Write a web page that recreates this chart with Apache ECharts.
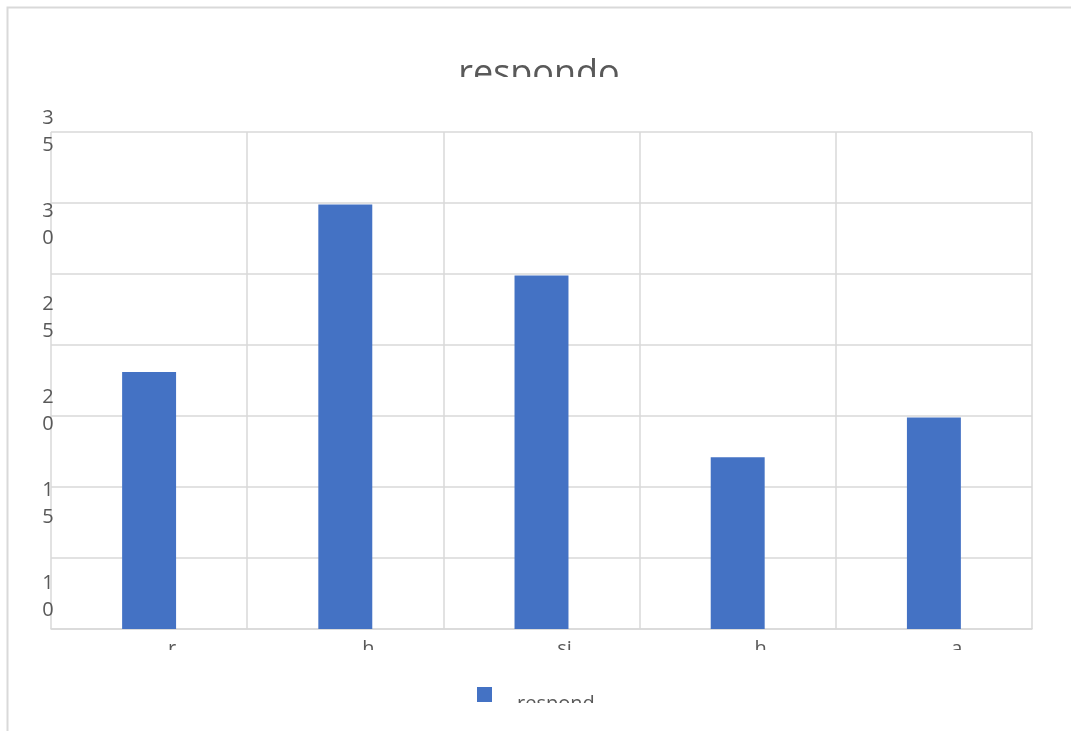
<!DOCTYPE html>
<html>
<head>
<meta charset="utf-8">
<script src="https://cdn.jsdelivr.net/npm/echarts@6/dist/echarts.min.js"></script>
<style>
  html, body { margin: 0; padding: 0; background: #ffffff; }
  #chart { width: 1071px; height: 731px; }
</style>
</head>
<body>
<div id="chart"></div>
<script>
// Chart data
const categories = ['r', 'h', 'si', 'h', 'a'];
const respondValues = [18.1, 29.9, 24.9, 12.1, 14.9];
const yTickLabels = [35, 30, 25, 20, 15, 10];
const chartTitle = 'respondo';
const seriesName = 'respond';

const GRID_COLOR = '#d9d9d9';
const TEXT_COLOR = '#595959';
const FONT = '"Open Sans", "Noto Sans", sans-serif';

const chart = echarts.init(document.getElementById('chart'));

chart.setOption({
  animation: false,
  backgroundColor: '#ffffff',
  title: {
    text: chartTitle,
    left: 534,
    textAlign: 'center',
    top: 52,
    textStyle: { fontFamily: FONT, fontSize: 36, fontWeight: 'normal', color: TEXT_COLOR }
  },
  legend: {
    data: [seriesName],
    left: 472,
    top: 682,
    icon: 'rect',
    itemWidth: 15,
    itemHeight: 15,
    formatter: '{t|{name}}',
    textStyle: {
      rich: {
        t: {
          fontFamily: FONT, fontSize: 20, color: TEXT_COLOR,
          padding: [20, 0, 0, 20]
        }
      }
    }
  },
  grid: { left: 51, right: 39, top: 132, bottom: 102 },
  xAxis: {
    type: 'category',
    data: categories,
    axisLine: { lineStyle: { color: GRID_COLOR, width: 1.5 } },
    axisTick: { show: false },
    splitLine: { show: true, lineStyle: { color: GRID_COLOR, width: 1.5 } },
    axisLabel: {
      fontFamily: FONT, fontSize: 20, color: TEXT_COLOR,
      margin: 10, padding: [0, 0, 0, 46]
    }
  },
  yAxis: [
    {
      type: 'value',
      min: 0,
      max: 35,
      interval: 5,
      axisLine: { show: false },
      axisTick: { show: false },
      axisLabel: { show: false },
      splitLine: { show: true, lineStyle: { color: GRID_COLOR, width: 1.5 } }
    },
    {
      // label track for the wrapped value labels
      type: 'value',
      position: 'left',
      min: 8.28,
      max: 35,
      axisLine: { show: false },
      axisTick: { show: false },
      splitLine: { show: false },
      axisLabel: {
        customValues: yTickLabels,
        formatter: v => String(v).split('').join('\n'),
        fontFamily: FONT, fontSize: 20, lineHeight: 27,
        color: TEXT_COLOR, align: 'center', margin: 3
      }
    }
  ],
  series: [{
    name: seriesName,
    type: 'bar',
    yAxisIndex: 0,
    data: respondValues,
    barWidth: '27.5%',
    itemStyle: { color: '#4472c4' }
  }],
  graphic: [
    {
      type: 'rect', z: -10, silent: true,
      shape: { x: 7.5, y: 7.5, width: 1100, height: 800 },
      style: { fill: 'none', stroke: GRID_COLOR, lineWidth: 2 }
    },
    // text boxes cut short at their lower edge
    {
      type: 'rect', z: 100, silent: true,
      shape: { x: 300, y: 77, width: 470, height: 30 },
      style: { fill: '#ffffff' }
    },
    {
      type: 'rect', z: 100, silent: true,
      shape: { x: 60, y: 650, width: 990, height: 30 },
      style: { fill: '#ffffff' }
    },
    {
      type: 'rect', z: 100, silent: true,
      shape: { x: 500, y: 703, width: 200, height: 26 },
      style: { fill: '#ffffff' }
    }
  ]
});
</script>
</body>
</html>
